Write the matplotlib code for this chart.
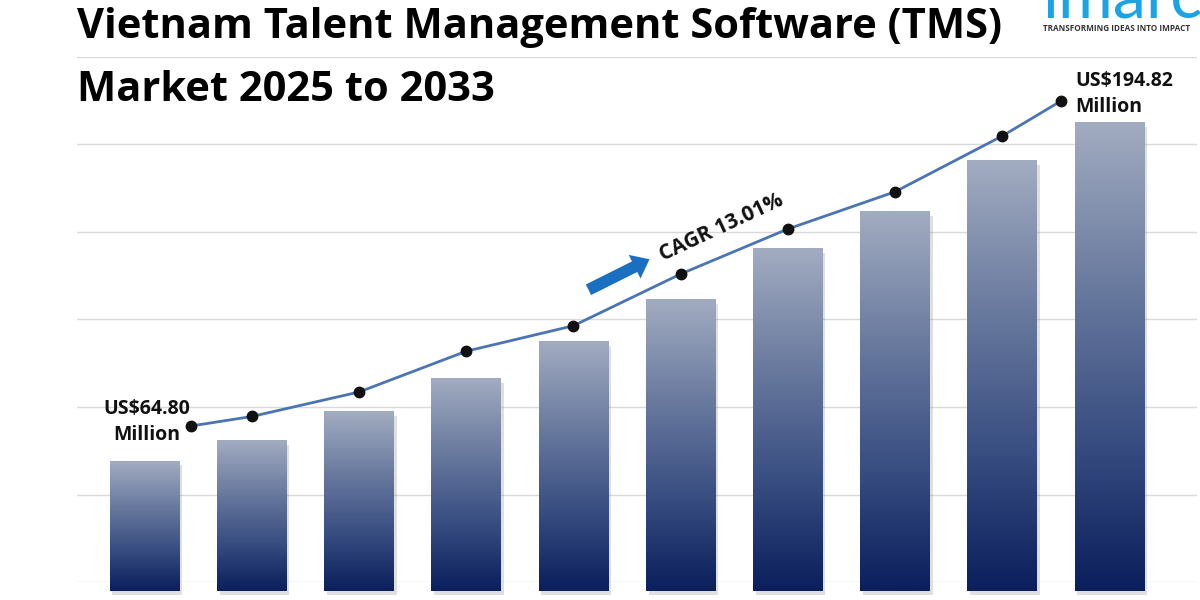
import numpy as np
import matplotlib
matplotlib.use('Agg')
import matplotlib.pyplot as plt
from matplotlib.colors import LinearSegmentedColormap
import matplotlib.patheffects as pe

# data
years = ['2024', '2025', '2026', '2027', '2028', '2029', '2030', '2031', '2032', '2033']
bar_values = [48.4, 56.4, 68.0, 81.2, 96.0, 112.8, 133.2, 148.0, 168.4, 183.6]
line_values = [64.80, 68.6, 78.4, 94.7, 104.9, 125.6, 143.6, 158.5, 180.8, 194.82]
first_label = 'US$64.80\nMillion'
last_label = 'US$194.82\nMillion'
cagr_label = 'CAGR 13.01%'
title_lines = ['Vietnam Talent Management Software (TMS)', 'Market 2025 to 2033']

plt.rcParams['font.family'] = ['Open Sans', 'DejaVu Sans']

fig = plt.figure(figsize=(12, 6), dpi=100)
ax = fig.add_axes([77/1200, 18/600, 1120/1200, 525/600])

x = np.arange(len(years))
bar_w = 0.65
base = -3.6   # bars hang a little below the lowest grid line

#%% gridlines
for gy in np.arange(0, 211, 35):
	ax.axhline(gy, color='#d9d9d9', lw=1, zorder=0)

#%% bars with vertical gradient
cmap = LinearSegmentedColormap.from_list('bar', ['#0a1f5c', '#3a4f82', '#6c7ca0', '#a2acc1'])
grad = np.linspace(0, 1, 256).reshape(-1, 1)
bars = ax.bar(x, np.array(bar_values) - base, bottom=base, width=bar_w, color='#0a1f5c',
			  zorder=2, clip_on=False,
			  path_effects=[pe.SimplePatchShadow(offset=(2, -3), shadow_rgbFace='#808080', alpha=0.25), pe.Normal()])
for b in bars:
	x0 = b.get_x()
	im = ax.imshow(grad, extent=[x0, x0 + b.get_width(), base, b.get_y() + b.get_height()],
				   origin='lower', aspect='auto', cmap=cmap, zorder=3)
	im.set_clip_on(False)
	im.set_clip_path(b)

ax.set_xlim(-0.63, 9.816)
ax.set_ylim(0, 210)
ax.axis('off')

#%% line on its own scale
ax2 = ax.twinx()
ax2.set_ylim(2.4, 212.4)
ax2.set_xlim(-0.63, 9.816)
ax2.axis('off')
line_x = x.astype(float)
line_x[0] += 0.434
line_x[-1] -= 0.452
ax2.plot(line_x, line_values, color='#4a74b4', lw=2, zorder=4)
ax2.plot(line_x, line_values, 'o', color='#111111', ms=7.5, zorder=5, clip_on=False)

ax2.annotate(first_label, (line_x[0], line_values[0]), xytext=(-44, 4), textcoords='offset pixels',
			 ha='center', va='center', fontsize=14, fontweight='bold', color='#111111',
			 linespacing=1.35)
ax2.annotate(last_label, (line_x[-1], line_values[-1]), xytext=(14, 7), textcoords='offset pixels',
			 ha='left', va='center', fontsize=14, fontweight='bold', color='#111111',
			 linespacing=1.35)

#%% CAGR arrow and text
fig.text(721/1200, 1 - 228/600, cagr_label, rotation=25, ha='center', va='center',
		 fontsize=15, fontweight='bold', color='#111111', rotation_mode='anchor')
ax.annotate('', xy=(652/1200, 1 - 258/600), xytext=(586/1200, 1 - 291/600),
			xycoords='figure fraction', textcoords='figure fraction',
			arrowprops=dict(arrowstyle='simple,head_width=1.9,head_length=1.2,tail_width=0.85',
							color='#1b6fc0', lw=0))

#%% title and logo
fig.text(77/1200, 1 - 38/600, title_lines[0], ha='left', va='baseline', fontsize=30,
		 fontweight='bold', color='#000000')
fig.text(77/1200, 1 - 101/600, title_lines[1], ha='left', va='baseline', fontsize=30,
		 fontweight='bold', color='#000000')
fig.text(1042/1200, 1 - 17/600, 'imarc', ha='left', va='baseline', fontsize=48,
		 color='#1ca3e6', fontweight='normal', family=['Lato', 'DejaVu Sans'])
fig.text(1043/1200, 1 - 28.5/600, 'TRANSFORMING IDEAS INTO IMPACT', ha='left', va='center',
		 fontsize=5.9, fontweight='bold', color='#333333')

fig.savefig('out.png', dpi=100, facecolor='white')
